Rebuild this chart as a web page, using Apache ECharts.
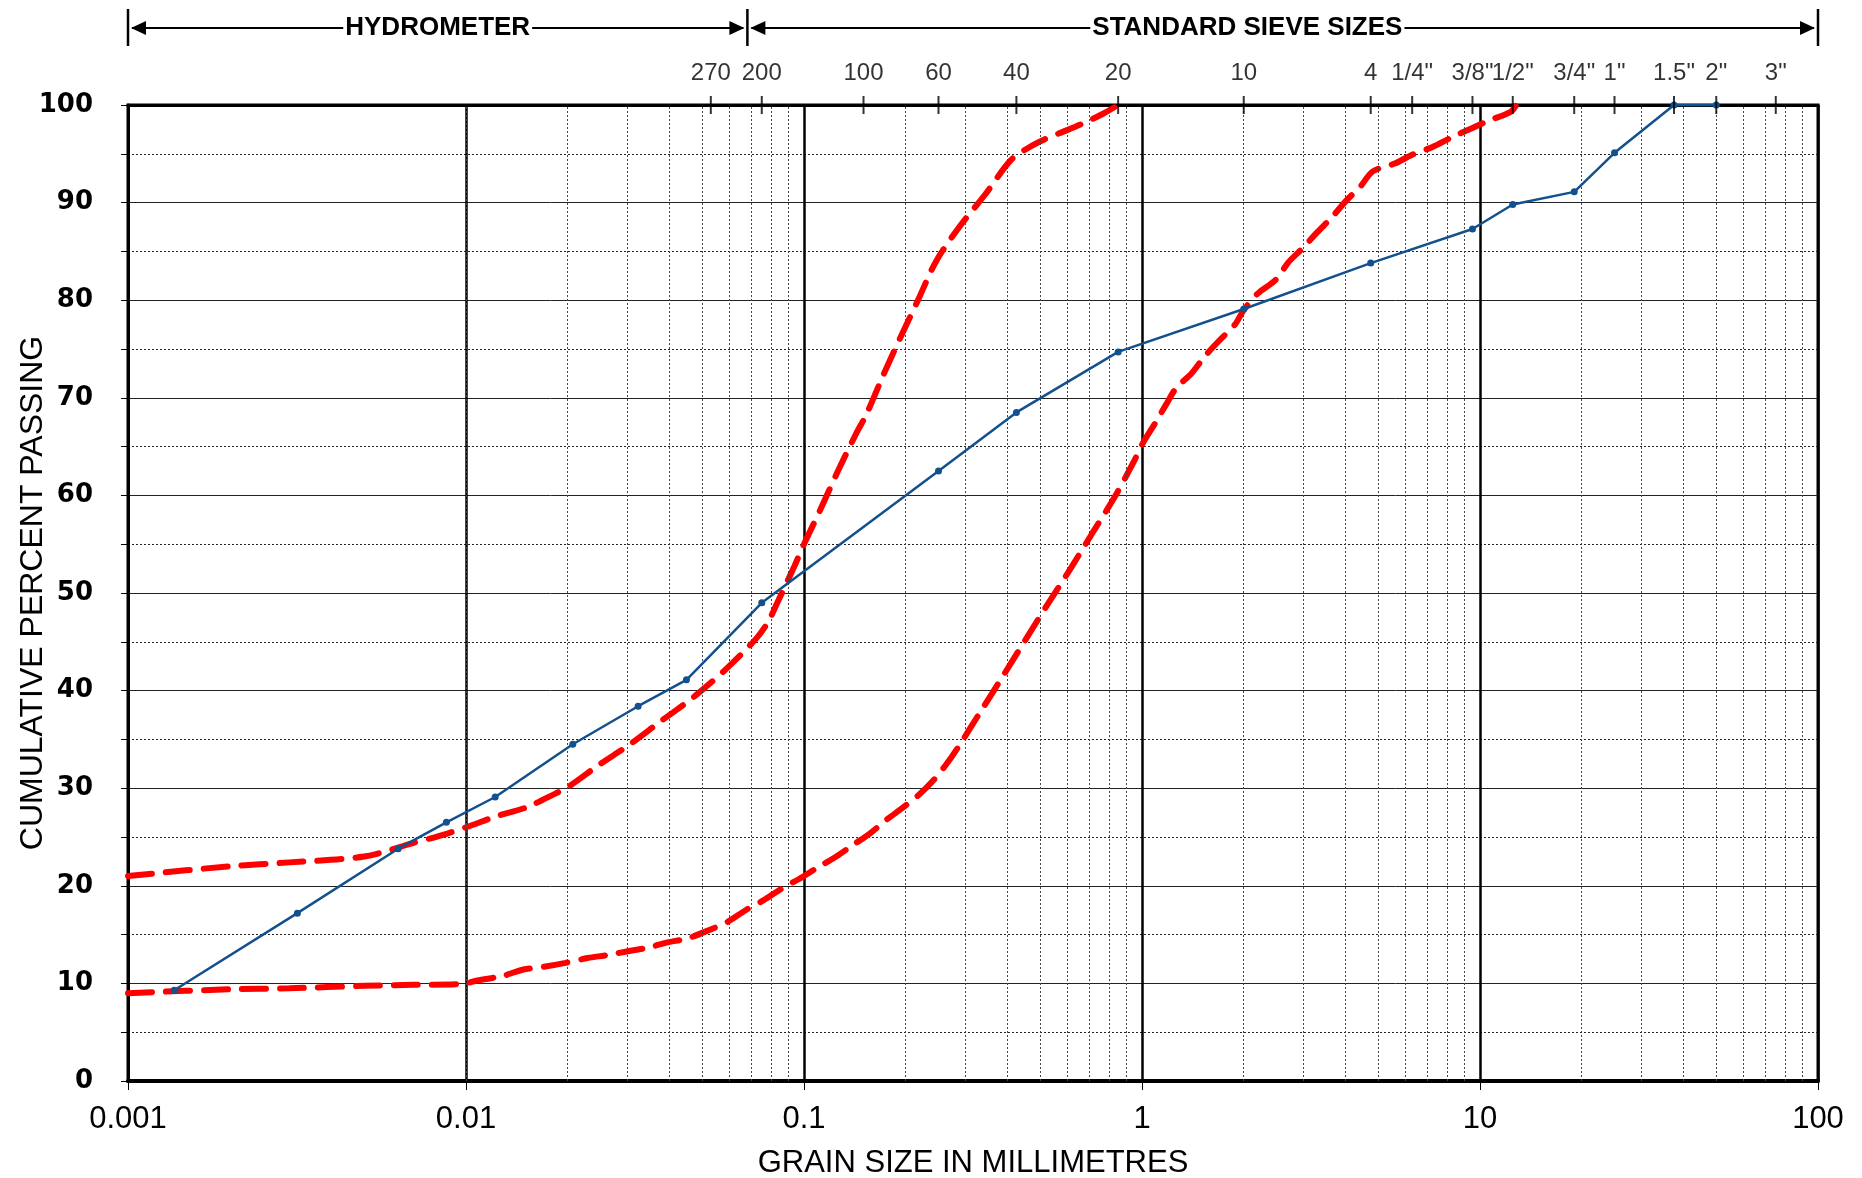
<!DOCTYPE html>
<html lang="en">
<head>
<meta charset="UTF-8">
<title>Particle size distribution</title>
<script src="https://cdn.jsdelivr.net/npm/echarts@6.0.0/dist/echarts.min.js"></script>
<style>html,body{margin:0;padding:0;background:#fff;}</style>
</head>
<body>
<div id="main" style="width:1862px;height:1178px;"></div>
<script>
// sample gradation: grain size (mm) and cumulative % passing
const sampleSize = [0.00137, 0.00317, 0.0063, 0.00875, 0.0122, 0.0207, 0.0323, 0.0449, 0.075,
  0.25, 0.425, 0.85, 2.0, 4.75, 9.5, 12.5, 19, 25, 37.5, 50];
const samplePassing = [9.3, 17.2, 23.8, 26.5, 29.1, 34.5, 38.4, 41.1, 49.0,
  62.5, 68.5, 74.7, 79.1, 83.8, 87.3, 89.8, 91.1, 95.1, 100, 100];

// envelope, fine side
const fineSize = [0.001, 0.002, 0.003, 0.005, 0.007, 0.0085, 0.01, 0.0125, 0.015, 0.0185, 0.02,
  0.025, 0.03, 0.0375, 0.0474, 0.0592, 0.0721, 0.0782, 0.0831, 0.0938, 0.1, 0.112, 0.126, 0.143,
  0.153, 0.172, 0.193, 0.218, 0.246, 0.288, 0.343, 0.408, 0.46, 0.516, 0.598, 0.667, 0.767, 0.85];
const finePassing = [21.0, 22.0, 22.4, 23.0, 24.4, 25.2, 26.0, 27.2, 28.0, 29.5, 30.1,
  32.5, 34.3, 36.8, 39.4, 42.3, 45.3, 47.0, 48.9, 52.8, 55.0, 58.6, 62.5, 66.4,
  68.3, 72.4, 76.2, 80.1, 84.0, 87.5, 90.8, 94.3, 95.6, 96.5, 97.4, 98.1, 99.1, 100];

// envelope, coarse side
const coarseSize = [0.001, 0.002, 0.003, 0.005, 0.007, 0.0098, 0.0108, 0.0128, 0.0147, 0.017,
  0.0197, 0.0229, 0.0262, 0.0301, 0.0344, 0.0394, 0.0451, 0.0527, 0.0594, 0.0672, 0.0758, 0.0867,
  0.0967, 0.11, 0.1233, 0.1398, 0.1558, 0.176, 0.196, 0.22, 0.24, 0.263, 0.287, 0.333, 0.388,
  0.452, 0.525, 0.612, 0.712, 0.829, 0.947, 1.007, 1.098, 1.178, 1.262, 1.401, 1.529, 1.685,
  1.883, 2.0, 2.203, 2.488, 2.714, 2.981, 3.308, 3.646, 4.02, 4.416, 4.818, 5.594, 6.3, 7.236,
  8.26, 9.426, 10.61, 12.32, 12.8];
const coarsePassing = [9.0, 9.4, 9.5, 9.75, 9.85, 9.95, 10.3, 10.75, 11.4, 11.7,
  12.1, 12.6, 12.9, 13.3, 13.65, 14.2, 14.6, 15.5, 16.3, 17.5, 18.5, 19.8,
  20.7, 21.9, 22.9, 24.2, 25.3, 26.8, 28.0, 29.4, 30.7, 32.4, 34.3, 37.85, 41.5,
  45.2, 48.8, 52.4, 56.1, 59.8, 63.5, 65.4, 67.5, 69.3, 71.0, 72.5, 74.2, 75.8,
  77.5, 79.0, 80.7, 82.1, 83.9, 85.3, 87.0, 88.5, 90.2, 91.6, 93.2, 94.0, 94.9, 95.7,
  96.7, 97.6, 98.4, 99.3, 100];

// standard sieve openings (mm) shown along the top
const sieveSize = [0.053, 0.075, 0.15, 0.25, 0.425, 0.85, 2, 4.75, 6.3, 9.5, 12.5, 19, 25, 37.5, 50, 75];
const sieveLabel = ['270', '200', '100', '60', '40', '20', '10', '4', '1/4"', '3/8"', '1/2"', '3/4"', '1"', '1.5"', '2"', '3"'];

const hydroLimit = 0.068;   // end of hydrometer range
const sans = '"Liberation Sans", Arial, sans-serif';

const zip = (a, b) => a.map((v, i) => [v, b[i]]);

// minor vertical grid: 2..9 in every decade
let minorX = [];
for (let e = -3; e < 2; e++) {
  for (let m = 2; m <= 9; m++) minorX.push(+(m * Math.pow(10, e)).toPrecision(3));
}

let chart = echarts.init(document.getElementById('main'));

let option = {
  animation: false,
  backgroundColor: '#fff',
  grid: {
    left: 128, right: 44, top: 105, bottom: 97, outerBoundsMode: 'none', containLabel: false,
    show: true, borderColor: '#000', borderWidth: 3
  },
  xAxis: [{
    type: 'log', logBase: 10, min: 0.001, max: 100,
    name: 'GRAIN SIZE IN MILLIMETRES', nameLocation: 'middle', nameGap: 67, nameMoveOverlap: false,
    nameTextStyle: { fontFamily: sans, fontSize: 31, color: '#000' },
    axisLine: { lineStyle: { color: '#000', width: 4 } },
    axisTick: { length: 9, lineStyle: { color: '#000', width: 1 } },
    axisLabel: {
      fontFamily: sans, fontSize: 31, color: '#000', margin: 23,
      formatter: v => String(+(+v).toPrecision(6))
    },
    splitLine: { show: true, lineStyle: { color: '#000', width: 2.5 } }
  }, {
    type: 'log', logBase: 10, min: 0.001, max: 100, position: 'top',
    axisLine: { lineStyle: { color: '#000', width: 3 } },
    axisTick: { show: false }, axisLabel: { show: false }, splitLine: { show: false }
  }],
  yAxis: {
    type: 'value', min: 0, max: 100, interval: 10,
    name: 'CUMULATIVE PERCENT PASSING', nameLocation: 'middle', nameGap: 79, nameMoveOverlap: false,
    nameTextStyle: { fontFamily: sans, fontSize: 32, color: '#000' },
    axisLine: { show: true, lineStyle: { color: '#000', width: 3 } },
    axisTick: { show: true, length: 7, lineStyle: { color: '#000' } },
    minorTick: { show: true, splitNumber: 2, length: 7, lineStyle: { color: '#000' } },
    axisLabel: { fontFamily: '"DejaVu Sans", sans-serif', fontWeight: 'bold', fontSize: 26, color: '#000', margin: 35 },
    splitLine: { lineStyle: { color: '#222', width: 1 } },
    minorSplitLine: { show: true, lineStyle: { color: '#222', width: 1, type: [2, 2] } }
  },
  series: [
    {
      name: 'grid', type: 'line', data: [], z: 1, silent: true,
      markLine: {
        silent: true, symbol: 'none', label: { show: false },
        lineStyle: { color: '#444', width: 1, type: [2, 2] },
        data: minorX.map(v => ({ xAxis: v }))
      }
    },
    {
      name: 'fine limit', type: 'line', data: zip(fineSize, finePassing),
      showSymbol: false, smooth: 0.3, z: 3,
      lineStyle: { color: '#ff0000', width: 6, type: [24, 14], cap: 'round' }
    },
    {
      name: 'coarse limit', type: 'line', data: zip(coarseSize, coarsePassing),
      showSymbol: false, smooth: 0.3, z: 3,
      lineStyle: { color: '#ff0000', width: 6, type: [24, 14], cap: 'round' }
    },
    {
      name: 'sample', type: 'line', data: zip(sampleSize, samplePassing), z: 5,
      symbol: 'circle', symbolSize: 7,
      itemStyle: { color: '#13508e' },
      lineStyle: { color: '#13508e', width: 2.5 }
    },
    {
      name: 'sieves', type: 'scatter', z: 6, clip: false, silent: true,
      data: sieveSize.map((s, i) => [s, 100, sieveLabel[i]]),
      symbol: 'rect', symbolSize: [2, 18],
      itemStyle: { color: '#000' },
      label: {
        show: true, position: 'top', distance: 11, formatter: p => p.data[2],
        fontFamily: sans, fontSize: 24, color: '#000'
      }
    }
  ]
};
chart.setOption(option);

// range header above the chart
const px = v => chart.convertToPixel({ xAxisIndex: 0 }, v);
const xL = px(0.001), xM = px(hydroLimit), xR = px(100);
const yA = 28, yT = 9, yB = 46;
const bar = x => ({ type: 'line', shape: { x1: x, y1: yT, x2: x, y2: yB }, style: { stroke: '#000', lineWidth: 2.5 } });
const head = (x, dir) => ({
  type: 'polygon',
  shape: { points: [[x, yA], [x + dir * 15, yA - 7], [x + dir * 15, yA + 7]] },
  style: { fill: '#000' }
});
const seg = (a, b) => ({ type: 'line', shape: { x1: a, y1: yA, x2: b, y2: yA }, style: { stroke: '#000', lineWidth: 2 } });
const label = (x, text) => ({
  type: 'text', x: x, y: yA, z: 10,
  style: {
    text: text, fontFamily: sans, fontWeight: 'bold', fontSize: 26, fill: '#000',
    align: 'center', verticalAlign: 'middle', backgroundColor: '#fff', padding: [0, 2]
  }
});
chart.setOption({
  graphic: [
    bar(xL), bar(xM), bar(xR),
    seg(xL + 4, xM - 4), seg(xM + 4, xR - 4),
    head(xL + 3, 1), head(xM - 3, -1), head(xM + 3, 1), head(xR - 3, -1),
    label((xL + xM) / 2, 'HYDROMETER'),
    label(xM + (xR - xM) * 0.467, 'STANDARD SIEVE SIZES')
  ]
});
</script>
</body>
</html>
